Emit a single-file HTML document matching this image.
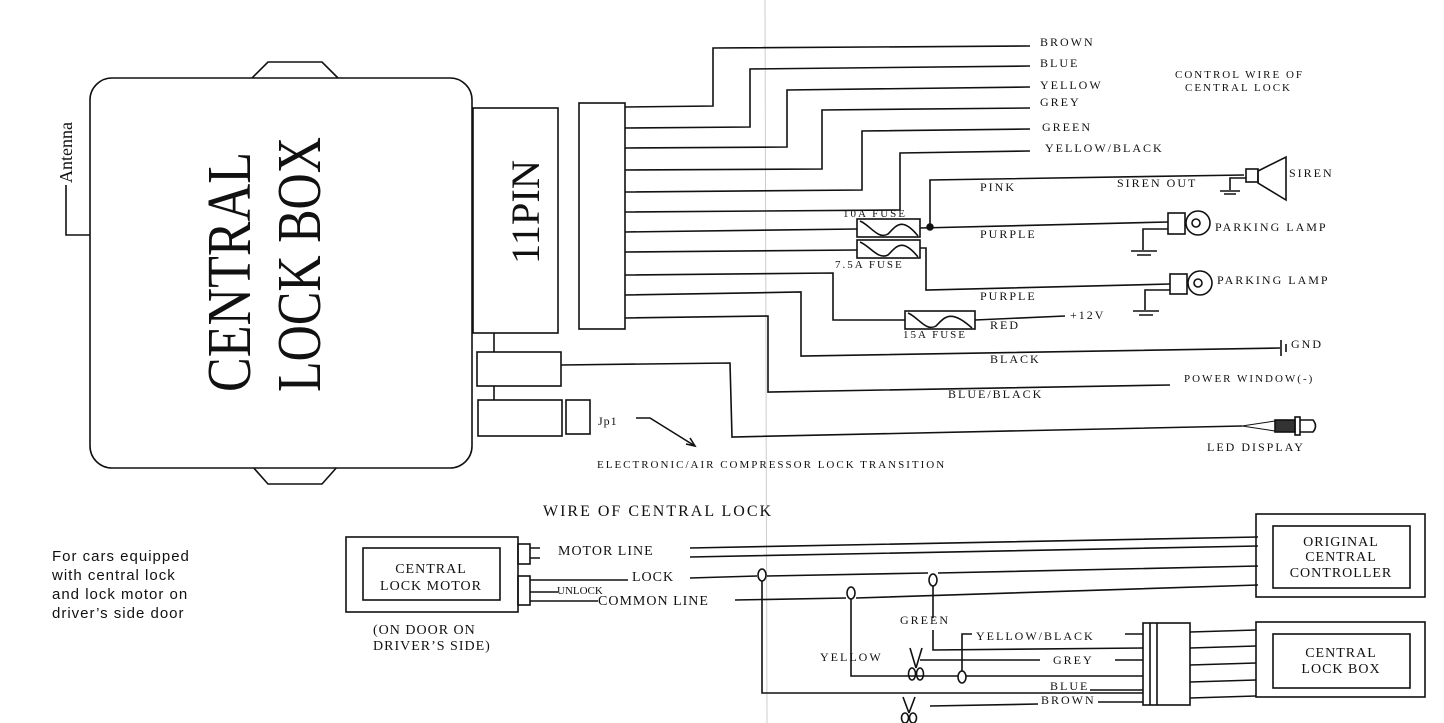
<!DOCTYPE html>
<html><head><meta charset="utf-8"><style>
html,body{margin:0;padding:0;background:#fff;}
svg{display:block;}
text{font-family:"Liberation Serif",serif;fill:#111;}
.s{font-size:12px;letter-spacing:2px;}
.b{font-size:14px;letter-spacing:1px;}
</style></head><body>
<svg width="1444" height="723" viewBox="0 0 1444 723" xmlns="http://www.w3.org/2000/svg">
<g stroke="#111" stroke-width="1.6" fill="none">
<line x1="765" y1="0" x2="767" y2="723" stroke="#ccc" stroke-width="1"/>
<path d="M250 80 L268 62 L322 62 L340 80" fill="#fff"/>
<path d="M252 466 L268 484 L322 484 L338 466" fill="#fff"/>
<rect x="90" y="78" width="382" height="390" rx="22" fill="#fff"/>
<path d="M66 185 L66 235 L90 235"/>
<rect x="473" y="108" width="85" height="225" fill="#fff"/>
<rect x="579" y="103" width="46" height="226"/>
<line x1="494" y1="333" x2="494" y2="352"/>
<line x1="494" y1="386" x2="494" y2="400"/>
<rect x="477" y="352" width="84" height="34"/>
<rect x="478" y="400" width="84" height="36"/>
<rect x="566" y="400" width="24" height="34"/>
<path d="M561 365 L730 363 L732 437 L1242 426"/>
<path d="M636 418 L650 418 L695 446"/>
<path d="M686 444 L695 446 L690 438"/>
<path d="M625 107 L713 106 L713 48 L1030 46"/>
<path d="M625 128 L750 127 L750 69 L1030 66"/>
<path d="M625 148 L787 147 L787 90 L1030 87"/>
<path d="M625 170 L822 169 L822 110 L1030 108"/>
<path d="M625 192 L862 190 L862 131 L1030 129"/>
<path d="M625 212 L900 210 L900 153 L1030 151"/>
<path d="M625 232 L857 229"/>
<path d="M625 252 L857 250"/>
<path d="M625 275 L833 273 L833 320 L905 320"/>
<path d="M625 295 L801 292 L801 356 L1280 348"/>
<path d="M625 318 L768 316 L768 392 L1170 385"/>
<rect x="857" y="219" width="63" height="18"/>
<path d="M860 221 C870 225 878 240 888 234 C896 226 902 216 918 236"/>
<rect x="857" y="240" width="63" height="18"/>
<path d="M860 242 C870 246 878 260 888 255 C896 247 902 237 918 257"/>
<rect x="905" y="311" width="70" height="18"/>
<path d="M908 313 C918 317 926 332 936 326 C944 318 950 308 972 328"/>
<path d="M920 228 L1168 222"/>
<circle cx="930" cy="227" r="3" fill="#111"/>
<path d="M930 227 L930 180 L1244 175"/>
<path d="M920 248 L926 248 L926 290 L1170 284"/>
<path d="M975 320 L1065 316"/>
<rect x="1246" y="169" width="12" height="13"/>
<path d="M1258 171 L1286 157 L1286 200 L1258 183 Z"/>
<path d="M1246 178 L1230 178 L1230 190"/>
<path d="M1220 191 L1240 191 M1224 194 L1236 194"/>
<rect x="1168" y="213" width="17" height="21"/>
<circle cx="1198" cy="223" r="12"/>
<circle cx="1196" cy="223" r="4"/>
<path d="M1168 229 L1143 229 L1143 250 M1131 251 L1157 251 M1137 255 L1151 255"/>
<rect x="1170" y="274" width="17" height="20"/>
<circle cx="1200" cy="283" r="12"/>
<circle cx="1198" cy="283" r="4"/>
<path d="M1170 290 L1145 290 L1145 310 M1133 311 L1159 311 M1139 315 L1153 315"/>
<path d="M1281 340 L1281 356 M1286 344 L1286 352"/>
<path d="M1242 426 L1275 421 L1275 431 Z" stroke-width="1"/>
<rect x="1275" y="420" width="20" height="12" fill="#333"/>
<rect x="1295" y="417" width="5" height="18"/>
<path d="M1300 420 L1313 420 Q1318 426 1313 432 L1300 432"/>

<rect x="346" y="537" width="172" height="75"/>
<rect x="363" y="548" width="137" height="52"/>
<rect x="518" y="544" width="12" height="20"/>
<rect x="518" y="576" width="12" height="29"/>
<path d="M530 548 L540 548 M530 558 L540 558 M530 580 L628 580 M530 592 L558 592 M530 601 L598 601"/>
<path d="M690 548 L1258 537 M690 557 L1258 546"/>
<path d="M690 578 L757 576 M767 576 L928 573 M938 573 L1258 566"/>
<path d="M735 600 L846 598 M856 598 L1258 585"/>
<ellipse cx="762" cy="575" rx="4" ry="6" fill="#fff"/>
<ellipse cx="933" cy="580" rx="4" ry="6" fill="#fff"/>
<ellipse cx="851" cy="593" rx="4" ry="6" fill="#fff"/>
<path d="M762 581 L762 693 L1143 693"/>
<path d="M933 586 L933 618 M933 630 L933 650 L1143 648"/>
<path d="M851 599 L851 676 L958 676 M966 676 L1143 676"/>
<ellipse cx="962" cy="677" rx="4" ry="6" fill="#fff"/>
<path d="M962 671 L962 634 L972 634 M1125 634 L1143 634"/>
<path d="M920 660 L1040 660 M1115 660 L1143 660"/>
<path d="M930 706 L1038 704 M1098 702 L1143 702"/>
<path d="M1090 690 L1143 690"/>
<path d="M910 648 L916 668 M922 648 L916 668"/>
<ellipse cx="912" cy="674" rx="3.5" ry="6"/><ellipse cx="920" cy="674" rx="3.5" ry="6"/>
<path d="M903 697 L909 713 M915 697 L909 713"/>
<ellipse cx="905" cy="718" rx="3.5" ry="5"/><ellipse cx="913" cy="718" rx="3.5" ry="5"/>
<rect x="1256" y="514" width="169" height="83"/>
<rect x="1273" y="526" width="137" height="62"/>
<rect x="1256" y="622" width="169" height="75"/>
<rect x="1273" y="634" width="137" height="54"/>
<rect x="1143" y="623" width="47" height="82"/>
<path d="M1150 623 L1150 705 M1157 623 L1157 705"/>
<path d="M1190 632 L1256 630 M1190 648 L1256 646 M1190 665 L1256 663 M1190 682 L1256 680 M1190 698 L1256 696"/>
</g>

<text transform="translate(72,183) rotate(-90)" style="font-size:18px">Antenna</text>
<text transform="translate(250,392) rotate(-90)" style="font-size:62px" textLength="240" lengthAdjust="spacingAndGlyphs">CENTRAL</text>
<text transform="translate(320,392) rotate(-90)" style="font-size:62px" textLength="255" lengthAdjust="spacingAndGlyphs">LOCK BOX</text>
<text transform="translate(539,264) rotate(-90)" style="font-size:40px" textLength="104" lengthAdjust="spacingAndGlyphs">11PIN</text>
<text x="598" y="425" class="s" style="letter-spacing:1px">Jp1</text>

<text x="1040" y="46" class="s">BROWN</text>
<text x="1040" y="67" class="s">BLUE</text>
<text x="1040" y="89" class="s">YELLOW</text>
<text x="1040" y="106" class="s">GREY</text>
<text x="1042" y="131" class="s">GREEN</text>
<text x="1045" y="152" class="s">YELLOW/BLACK</text>
<text x="1175" y="78" class="s" style="font-size:11px">CONTROL WIRE OF</text>
<text x="1185" y="91" class="s" style="font-size:11px">CENTRAL LOCK</text>
<text x="980" y="191" class="s">PINK</text>
<text x="1117" y="187" class="s">SIREN OUT</text>
<text x="1289" y="177" class="s">SIREN</text>
<text x="843" y="217" class="s" style="font-size:11px">10A FUSE</text>
<text x="835" y="268" class="s" style="font-size:11px">7.5A FUSE</text>
<text x="980" y="238" class="s">PURPLE</text>
<text x="1215" y="231" class="s">PARKING LAMP</text>
<text x="980" y="300" class="s">PURPLE</text>
<text x="1217" y="284" class="s">PARKING LAMP</text>
<text x="990" y="329" class="s">RED</text>
<text x="1070" y="319" class="s">+12V</text>
<text x="903" y="338" class="s" style="font-size:11px">15A FUSE</text>
<text x="990" y="363" class="s">BLACK</text>
<text x="1291" y="348" class="s">GND</text>
<text x="948" y="398" class="s">BLUE/BLACK</text>
<text x="1184" y="382" class="s" style="font-size:11px">POWER WINDOW(-)</text>
<text x="1207" y="451" class="s">LED DISPLAY</text>
<text x="597" y="468" class="s" style="font-size:11px">ELECTRONIC/AIR COMPRESSOR LOCK TRANSITION</text>

<text x="543" y="516" style="font-size:16px;letter-spacing:2px">WIRE OF CENTRAL LOCK</text>
<text x="52" y="561" style="font-family:'Liberation Sans',sans-serif;font-size:15px;letter-spacing:1px">For cars equipped</text>
<text x="52" y="580" style="font-family:'Liberation Sans',sans-serif;font-size:15px;letter-spacing:1px">with central lock</text>
<text x="52" y="599" style="font-family:'Liberation Sans',sans-serif;font-size:15px;letter-spacing:1px">and lock motor on</text>
<text x="52" y="618" style="font-family:'Liberation Sans',sans-serif;font-size:15px;letter-spacing:1px">driver’s side door</text>
<text x="431" y="573" class="b" text-anchor="middle">CENTRAL</text>
<text x="431" y="590" class="b" text-anchor="middle">LOCK MOTOR</text>
<text x="373" y="634" class="b">(ON DOOR ON</text>
<text x="373" y="650" class="b">DRIVER’S SIDE)</text>
<text x="558" y="555" class="b">MOTOR LINE</text>
<text x="632" y="581" class="b">LOCK</text>
<text x="557" y="594" style="font-size:11px">UNLOCK</text>
<text x="598" y="605" class="b">COMMON LINE</text>
<text x="1341" y="546" class="b" text-anchor="middle">ORIGINAL</text>
<text x="1341" y="561" class="b" text-anchor="middle">CENTRAL</text>
<text x="1341" y="577" class="b" text-anchor="middle">CONTROLLER</text>
<text x="1341" y="657" class="b" text-anchor="middle">CENTRAL</text>
<text x="1341" y="673" class="b" text-anchor="middle">LOCK BOX</text>
<text x="900" y="624" class="s">GREEN</text>
<text x="820" y="661" class="s">YELLOW</text>
<text x="976" y="640" class="s">YELLOW/BLACK</text>
<text x="1053" y="664" class="s">GREY</text>
<text x="1050" y="690" class="s">BLUE</text>
<text x="1041" y="704" class="s">BROWN</text>
</svg>
</body></html>
